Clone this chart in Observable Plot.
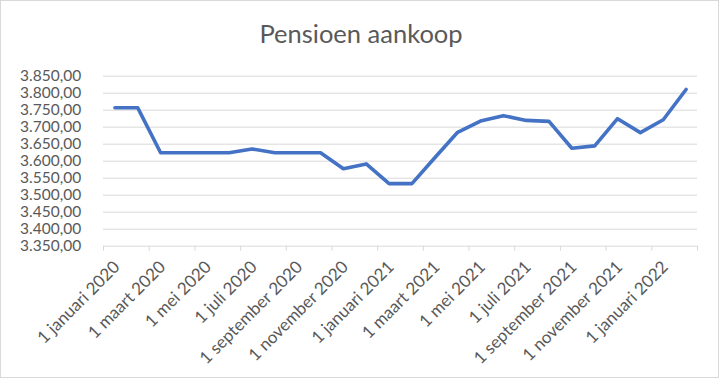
<!DOCTYPE html>
<html><head><meta charset="utf-8">
<script src="https://cdn.jsdelivr.net/npm/d3@7"></script>
<script src="https://cdn.jsdelivr.net/npm/@observablehq/plot@0.6"></script>
<style>
body{margin:0;background:#fff;}
#wrap{position:relative;width:722px;height:382px;overflow:hidden;font-family:Lato,sans-serif;background:#fff;}
#frame{position:absolute;left:0;top:0;width:719px;height:378px;border:1.5px solid #d9d9d9;box-sizing:border-box;pointer-events:none;}
#title{height:60px;box-sizing:border-box;padding-top:18px;text-align:center;font-size:25.5px;line-height:30px;color:#595959;font-family:Lato,sans-serif;}
#chart svg{display:block;}
</style></head>
<body><div id="wrap"><div id="title">Pensioen aankoop</div><div id="chart"></div><div id="frame"></div></div>
<script>
const months = ["2020-01","2020-02","2020-03","2020-04","2020-05","2020-06","2020-07","2020-08","2020-09","2020-10","2020-11","2020-12",
  "2021-01","2021-02","2021-03","2021-04","2021-05","2021-06","2021-07","2021-08","2021-09","2021-10","2021-11","2021-12",
  "2022-01","2022-02"];
const values = [3757,3757,3625,3625,3625,3625,3636,3625,3625,3625,3578,3592,
  3534,3534,3610,3685,3718,3734,3720,3717,3638,3645,3725,3684,
  3722,3811];
const tickLabels = ["1 januari 2020","1 maart 2020","1 mei 2020","1 juli 2020","1 september 2020","1 november 2020",
  "1 januari 2021","1 maart 2021","1 mei 2021","1 juli 2021","1 september 2021","1 november 2021","1 januari 2022"];
const yTicks = [3350,3400,3450,3500,3550,3600,3650,3700,3750,3800,3850];

const data = months.map((m, i) => ({month: m, i, value: values[i]}));
const nl = d3.formatLocale({decimal: ",", thousands: ".", grouping: [3], currency: ["€", ""]});
const fmt = nl.format(",.2f");
const boundaryTicks = d3.range(0, months.length + 1, 2).map(k => k - 0.5);
const labelTicks = tickLabels.map((_, k) => k * 2);

const chart = Plot.plot({
  width: 722, height: 322,
  marginLeft: 103, marginRight: 25, marginTop: 15.7, marginBottom: 136.3,
  style: {fontFamily: "Lato, sans-serif", fontSize: "16px", color: "#595959", background: "transparent", overflow: "visible"},
  x: {type: "linear", domain: [-0.5, months.length - 0.5], label: null},
  y: {domain: [3350, 3850], label: null},
  marks: [
    Plot.gridY({ticks: yTicks, stroke: "#d9d9d9", strokeOpacity: 1, strokeWidth: 1}),
    Plot.axisY({ticks: yTicks, tickSize: 0, tickPadding: 22.3, tickFormat: fmt, fontSize: 15.5, label: null}),
    Plot.axisX({ticks: boundaryTicks, tickSize: 5, tickFormat: () => "", stroke: "#d9d9d9", strokeOpacity: 1, label: null}),
    Plot.axisX({ticks: labelTicks, tickSize: 0, tickPadding: 0, tickRotate: -45, dy: 18, dx: 2,
      tickFormat: i => tickLabels[i / 2], fontSize: 17, label: null}),
    Plot.line(data, {x: "i", y: "value", stroke: "#4472C4", strokeWidth: 3.6, strokeLinecap: "round", strokeLinejoin: "round"})
  ]
});
document.getElementById("chart").appendChild(chart);
</script>
</body></html>
